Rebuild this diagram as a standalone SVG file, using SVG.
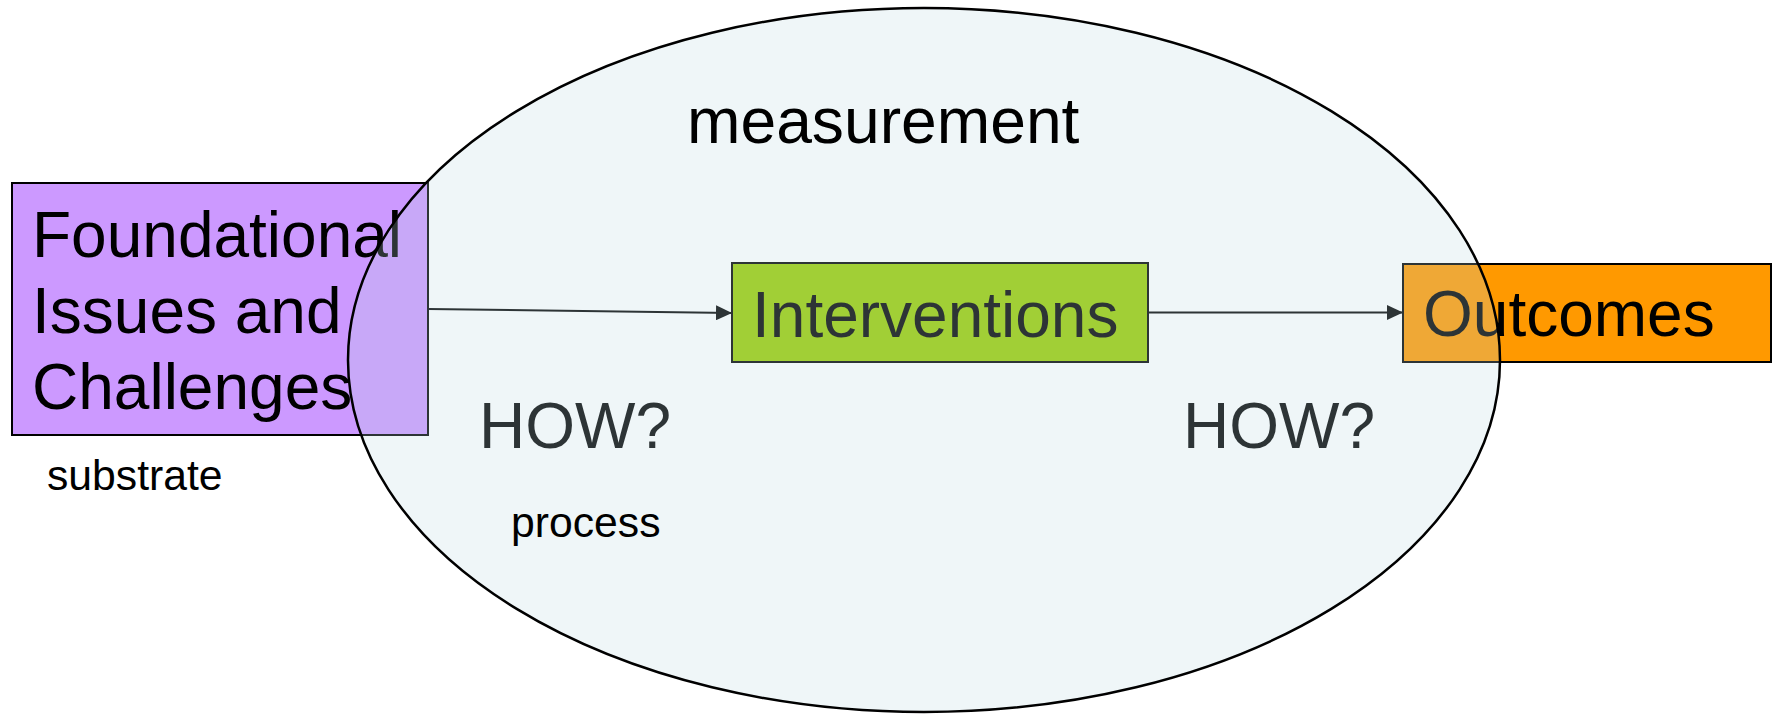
<svg xmlns="http://www.w3.org/2000/svg" width="1779" height="714" viewBox="0 0 1779 714">
<style>
.box{stroke:#000;stroke-width:2}
.big{font-family:"Liberation Sans",Arial,sans-serif;font-size:64px;fill:#000}
.small{font-family:"Liberation Sans",Arial,sans-serif;font-size:42.7px;fill:#000}
.conn{stroke:#000;stroke-width:2;fill:none}
</style>
<defs>
<marker id="arr" markerUnits="userSpaceOnUse" markerWidth="16" markerHeight="15" refX="16" refY="7.5" orient="auto">
<path d="M0,0 L16,7.5 L0,15 z" fill="#000"/>
</marker>
</defs>
<rect width="1779" height="714" fill="#fff"/>
<g id="foundational">
<rect class="box" x="12" y="183" width="416" height="252" fill="#CC99FF"/>
<text class="big" x="32" y="257">Foundational</text>
<text class="big" x="32" y="333">Issues and</text>
<text class="big" x="32" y="409">Challenges</text>
</g>
<g id="substrate-label">
<text class="small" x="47" y="490">substrate</text>
</g>
<g id="interventions">
<rect class="box" x="732" y="263" width="416" height="99" fill="#99CC00"/>
<text class="big" x="752" y="337">Interventions</text>
</g>
<g id="outcomes">
<rect class="box" x="1403" y="264" width="368" height="98" fill="#FF9900"/>
<text class="big" x="1423" y="336">Outcomes</text>
</g>
<g id="how-labels">
<text class="big" x="479" y="448">HOW?</text>
<text class="big" x="1183" y="448">HOW?</text>
</g>
<g id="connectors">
<line class="conn" x1="428" y1="309" x2="732" y2="313" marker-end="url(#arr)"/>
<line class="conn" x1="1148" y1="312.5" x2="1403" y2="312.5" marker-end="url(#arr)"/>
</g>
<g id="measurement">
<ellipse cx="924" cy="360" rx="576" ry="352" fill="rgb(188,218,226)" fill-opacity="0.24" stroke="#000" stroke-width="2.5"/>
<text class="big" x="687" y="143" style="font-size:64.2px">measurement</text>
</g>
<g id="process-label">
<text class="small" x="511" y="537">process</text>
</g>
</svg>
